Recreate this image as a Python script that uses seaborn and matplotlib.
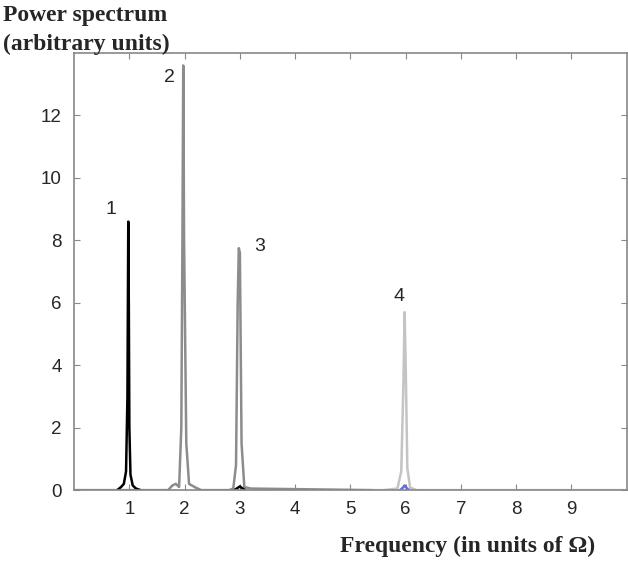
import numpy as np
import pandas as pd
import matplotlib
matplotlib.use("Agg")
import matplotlib.pyplot as plt
import seaborn as sns

# spectrum traces (frequency in units of Omega, power)
freq_1 = [0.78, 0.85, 0.90, 0.94, 0.965, 0.98, 0.99, 1.00, 1.02, 1.06, 1.12, 1.20]
power_1 = [0.00, 0.10, 0.20, 0.60, 3.00, 8.60, 6.00, 2.00, 0.50, 0.15, 0.05, 0.00]
freq_1b = [2.90, 2.95, 3.00, 3.05, 3.10]
power_1b = [0.00, 0.06, 0.12, 0.05, 0.00]

freq_2 = [0.00, 1.70, 1.78, 1.84, 1.90, 1.94, 1.96, 1.975, 1.99, 2.03, 2.08, 2.20, 2.30, 2.80, 2.88, 2.93, 2.96, 2.98, 3.00, 3.03, 3.08, 3.20, 5.40]
power_2 = [0.00, 0.00, 0.15, 0.20, 0.10, 2.00, 8.00, 13.60, 8.00, 1.50, 0.20, 0.08, 0.00, 0.00, 0.05, 0.80, 6.00, 7.75, 7.60, 1.50, 0.10, 0.05, 0.00]

freq_4 = [5.40, 5.60, 5.85, 5.92, 5.96, 5.98, 6.00, 6.03, 6.08, 6.20, 10.0]
power_4 = [0.00, 0.00, 0.05, 0.60, 3.50, 5.70, 4.00, 0.70, 0.08, 0.00, 0.00]

freq_blue = [5.90, 5.95, 5.98, 6.02, 6.06]
power_blue = [0.00, 0.08, 0.15, 0.06, 0.00]

peak_labels = ["1", "2", "3", "4"]
label_x = [0.67, 1.72, 3.35, 5.87]
label_y = [9.0, 13.2, 7.8, 6.2]

sns.set_style("ticks")
plt.rcParams["font.family"] = ["Liberation Sans", "DejaVu Sans"]

fig = plt.figure(figsize=(6.28, 5.64), dpi=100)
ax = fig.add_axes([0.118, 0.131, 0.88, 0.775])

traces = [
    (freq_2, power_2, "#8c8c8c"),
    (freq_4, power_4, "#c4c4c4"),
    (freq_1, power_1, "#000000"),
    (freq_1b, power_1b, "#000000"),
    (freq_blue, power_blue, "#6a6ad8"),
]
for fx, py, col in traces:
    df = pd.DataFrame({"f": fx, "p": py})
    sns.lineplot(data=df, x="f", y="p", ax=ax, color=col, lw=1.8, sort=False)

for t, lx, ly in zip(peak_labels, label_x, label_y):
    ax.text(lx, ly, t, fontsize=14, ha="center", va="center")

ax.set_xlim(0, 10)
ax.set_ylim(0, 14)
ax.set_xticks(range(1, 10))
ax.set_yticks(range(0, 13, 2))
ax.tick_params(direction="in", top=True, right=True, labelsize=13.5, length=4,
               color="#888888")
ax.tick_params(axis="x", pad=8)
ax.tick_params(axis="y", pad=9)
for s in ax.spines.values():
    s.set_color("#888888")
    s.set_linewidth(1.2)

ax.set_xlabel("")
ax.set_ylabel("")
fig.text(0.005, 0.972, "Power spectrum", fontsize=17, fontweight="bold",
         family="Liberation Serif", va="center")
fig.text(0.005, 0.922, "(arbitrary units)", fontsize=17, fontweight="bold",
         family="Liberation Serif", va="center")
fig.text(0.947, 0.031, "Frequency (in units of \u03a9)", fontsize=17, fontweight="bold",
         family="Liberation Serif", ha="right", va="center")

fig.savefig("out.png", dpi=100)
